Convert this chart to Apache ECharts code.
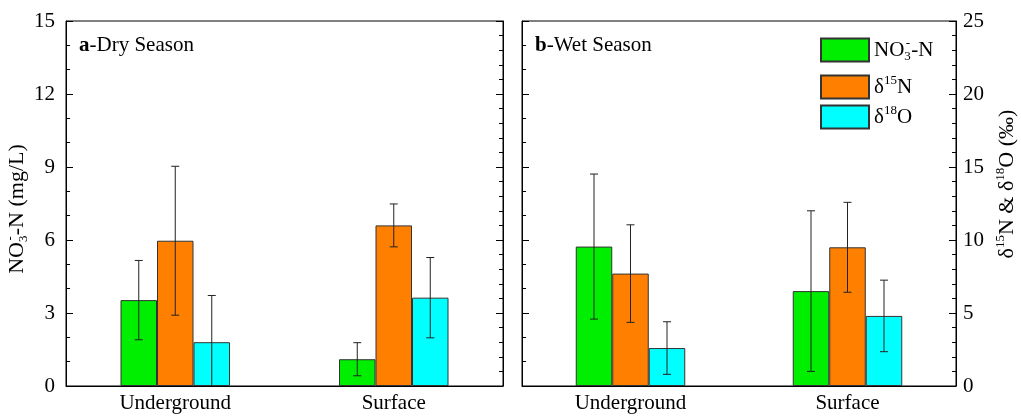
<!DOCTYPE html>
<html>
<head>
<meta charset="utf-8">
<script src="https://cdn.jsdelivr.net/npm/echarts@6/dist/echarts.min.js"></script>
<style>
  html, body { margin: 0; padding: 0; background: #fff; }
  #chart { width: 1021px; height: 417px; }
</style>
</head>
<body>
<div id="chart"></div>
<script>
// data
const categories = ['Underground', 'Surface']
const seriesNames = ['NO3-N', 'δ15N', 'δ18O']

// dry season
const dryNO3 = [3.53, 1.10]
const dryNO3Err = [1.63, 0.68]
const dryD15N = [9.95, 11.0]
const dryD15NErr = [5.1, 1.47]
const dryD18O = [3.0, 6.05]
const dryD18OErr = [3.2, 2.75]
// wet season
const wetNO3 = [5.73, 3.9]
const wetNO3Err = [2.98, 3.3]
const wetD15N = [7.7, 9.5]
const wetD15NErr = [3.34, 3.08]
const wetD18O = [2.6, 4.8]
const wetD18OErr = [1.8, 2.45]

const leftTicks = { min: 0, max: 15, interval: 3 }
const rightTicks = { min: 0, max: 25, interval: 5 }

const font = 'Liberation Serif'
const colors = ['#00ee00', '#ff8000', '#00ffff']
const barW = 36.5
const rich = {
    sub: { fontFamily: font, fontSize: 13, lineHeight: 12, verticalAlign: 'bottom', color: '#000' },
    sup: { fontFamily: font, fontSize: 13, lineHeight: 12, verticalAlign: 'top', color: '#000' },
    supm: { fontFamily: font, fontSize: 13, lineHeight: 12, verticalAlign: 'top', color: '#000', padding: [0, 1, 0, -5] },
    b: { fontFamily: font, fontSize: 21, fontWeight: 'bold', color: '#000' }
}
const richNames = {
    'NO3-N': 'NO{sub|3}{supm|-}-N',
    'δ15N': 'δ{sup|15}N',
    'δ18O': 'δ{sup|18}O'
}

const xAxisBase = gridIndex => ({
    type: 'category',
    gridIndex,
    data: categories,
    z: 10,
    axisLine: { lineStyle: { color: '#000', width: 1 } },
    axisTick: { alignWithLabel: true, inside: true, length: 6, lineStyle: { color: '#000' } },
    axisLabel: { fontFamily: font, fontSize: 21, color: '#000', margin: 7 }
})

const yAxisBase = (gridIndex, position, ticks, showLabel, minorSplit) => ({
    type: 'value',
    gridIndex,
    position,
    ...ticks,
    z: 10,
    axisLine: { show: true, lineStyle: { color: '#000', width: 1 } },
    axisTick: { show: true, inside: true, length: 7, lineStyle: { color: '#000' } },
    minorTick: { show: true, splitNumber: minorSplit, length: 4, lineStyle: { color: '#000' } },
    splitLine: { show: false },
    axisLabel: { show: showLabel, fontFamily: font, fontSize: 21, color: '#000', margin: position === 'left' ? 11 : 7 }
})

const errBar = (xi, yi, vals, errs, offset) => ({
    type: 'custom',
    xAxisIndex: xi,
    yAxisIndex: yi,
    z: 5,
    clip: true,
    silent: true,
    data: vals.map((v, i) => [i, v - errs[i], v + errs[i]]),
    renderItem: function (params, api) {
        const cx = api.coord([api.value(0), 0])[0] + offset
        const yLo = api.coord([api.value(0), api.value(1)])[1]
        const yHi = api.coord([api.value(0), api.value(2)])[1]
        const style = { stroke: '#222', lineWidth: 1 }
        return {
            type: 'group',
            children: [
                { type: 'line', shape: { x1: cx, y1: yHi, x2: cx, y2: yLo }, style },
                { type: 'line', shape: { x1: cx - 4, y1: yHi, x2: cx + 4, y2: yHi }, style },
                { type: 'line', shape: { x1: cx - 4, y1: yLo, x2: cx + 4, y2: yLo }, style }
            ]
        }
    }
})

const bar = (name, xi, yi, vals, k) => ({
    name,
    type: 'bar',
    xAxisIndex: xi,
    yAxisIndex: yi,
    barWidth: barW,
    barGap: '0%',
    itemStyle: { color: colors[k], borderColor: '#333', borderWidth: 1 },
    data: vals
})

const panels = [
    { xi: 0, yl: 0, yr: 1, data: [[dryNO3, dryNO3Err], [dryD15N, dryD15NErr], [dryD18O, dryD18OErr]] },
    { xi: 1, yl: 2, yr: 3, data: [[wetNO3, wetNO3Err], [wetD15N, wetD15NErr], [wetD18O, wetD18OErr]] }
]
const series = []
panels.forEach(p => {
    p.data.forEach((d, k) => {
        const yi = k === 0 ? p.yl : p.yr
        series.push(bar(seriesNames[k], p.xi, yi, d[0], k))
    })
    p.data.forEach((d, k) => {
        const yi = k === 0 ? p.yl : p.yr
        series.push(errBar(p.xi, yi, d[0], d[1], (k - 1) * barW))
    })
})

// axis titles; padding nudges them along the axis like in the original
const leftName = {
    name: 'NO{sub|3}{supm|-}-N (mg/L)',
    nameLocation: 'middle',
    nameGap: 22,
    nameRotate: 90,
    nameTextStyle: { fontFamily: font, fontSize: 22, color: '#000', lineHeight: 26, padding: [0, 11, 0, 0], rich }
}
const rightName = {
    name: 'δ{sup|15}N & δ{sup|18}O (‰)',
    nameLocation: 'middle',
    nameGap: 38,
    nameRotate: 90,
    nameTextStyle: { fontFamily: font, fontSize: 22, color: '#000', lineHeight: 26, padding: [0, 0, 0, 39], rich }
}

const option = {
    animation: false,
    backgroundColor: '#fff',
    title: [
        { text: '{b|a}-Dry Season', left: 79, top: 35, padding: 0,
          textStyle: { fontFamily: font, fontSize: 21, fontWeight: 'normal', color: '#000', rich } },
        { text: '{b|b}-Wet Season', left: 535, top: 35, padding: 0,
          textStyle: { fontFamily: font, fontSize: 21, fontWeight: 'normal', color: '#000', rich } }
    ],
    legend: seriesNames.map((n, i) => ({
        data: [n],
        left: 820,
        top: [37, 74, 104][i],
        padding: 0,
        icon: 'rect',
        itemWidth: 48,
        itemHeight: 23,
        selectedMode: false,
        formatter: name => richNames[name],
        textStyle: { fontFamily: font, fontSize: 21, color: '#000', lineHeight: 26, rich }
    })),
    grid: [
        { left: 66, right: 518, top: 21, bottom: 31, show: true, borderColor: '#000', borderWidth: 1 },
        { left: 522, right: 63, top: 21, bottom: 31, show: true, borderColor: '#000', borderWidth: 1 }
    ],
    xAxis: [xAxisBase(0), xAxisBase(1)],
    yAxis: [
        { ...yAxisBase(0, 'left', leftTicks, true, 3), ...leftName },
        yAxisBase(0, 'right', rightTicks, false, 5),
        yAxisBase(1, 'left', leftTicks, false, 3),
        { ...yAxisBase(1, 'right', rightTicks, true, 5), ...rightName }
    ],
    series
}

const chart = echarts.init(document.getElementById('chart'), null, { renderer: 'canvas' })
chart.setOption(option)
</script>
</body>
</html>
